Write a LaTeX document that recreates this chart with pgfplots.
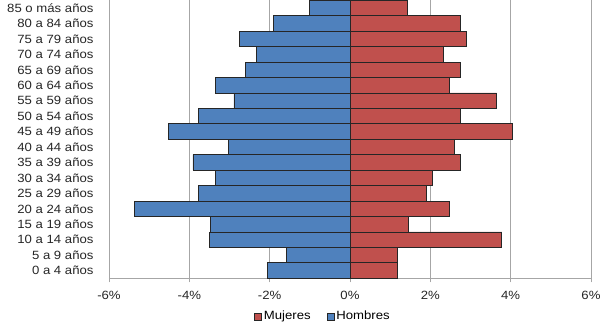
\documentclass[border=0pt]{standalone}
\usepackage{fontspec}
\setmainfont{Liberation Sans}[FakeStretch=1.1]
\usepackage{pgfplots}
\pgfplotsset{compat=1.18}
\definecolor{hblue}{HTML}{4F81BD}
\definecolor{mred}{HTML}{C0504D}
\definecolor{gridgray}{HTML}{A6A6A6}
\begin{document}
\begin{tikzpicture}
\begin{axis}[
  at={(0,0)}, anchor=south west,
  scale only axis, width=482bp, height=278bp,
  xmin=-6, xmax=6, ymin=-0.5, ymax=17.5,
  axis x line*=bottom, axis y line*=left,
  axis line style={gridgray, line width=0.8pt},
  xtick={-6,-4,-2,0,2,4,6},
  xticklabels={-6\%,-4\%,-2\%,0\%,2\%,4\%,6\%},
  xmajorgrids, grid style={gridgray, line width=0.8pt},
  xtick style={gridgray, line width=0.8pt},
  tick align=outside, major tick length=4bp,
  ytick={0,...,17},
  yticklabels={0 a 4 años,5 a 9 años,10 a 14 años,15 a 19 años,20 a 24 años,25 a 29 años,30 a 34 años,35 a 39 años,40 a 44 años,45 a 49 años,50 a 54 años,55 a 59 años,60 a 64 años,65 a 69 años,70 a 74 años,75 a 79 años,80 a 84 años,85 o más años},
  ytick style={draw=none},
  yticklabel style={font=\fontsize{12}{13}\selectfont, text=black!85, xshift=-8bp},
  xticklabel style={font=\fontsize{12}{13}\selectfont, text=black!85, yshift=-5bp},
  xbar, bar width=1, bar shift=0pt,
  legend columns=2,
  legend style={draw=none, fill=none, at={(0.444,-0.137)}, anchor=center,
    font=\fontsize{12}{13}\selectfont, /tikz/every even column/.append style={column sep=14bp}},
  legend image code/.code={\draw[#1, line width=0.6pt] (0bp,-3.5bp) rectangle (7bp,3.5bp);},
]
\addplot[fill=mred, draw=black!85, line width=0.8pt] coordinates {
(1.17,0) (1.17,1) (3.78,2) (1.45,3) (2.47,4) (1.91,5) (2.05,6) (2.75,7) (2.61,8)
(4.05,9) (2.75,10) (3.65,11) (2.47,12) (2.75,13) (2.33,14) (2.89,15) (2.75,16) (1.44,17)};
\addlegendentry{Mujeres}
\addplot[fill=hblue, draw=black!85, line width=0.8pt] coordinates {
(-2.05,0) (-1.58,1) (-3.49,2) (-3.48,3) (-5.37,4) (-3.77,5) (-3.34,6) (-3.91,7) (-3.03,8)
(-4.51,9) (-3.77,10) (-2.89,11) (-3.34,12) (-2.61,13) (-2.32,14) (-2.75,15) (-1.91,16) (-1.01,17)};
\addlegendentry{Hombres}
\end{axis}
\pgfresetboundingbox
\path[use as bounding box] (-109bp,-47.7bp) rectangle (505bp,278.3bp);
\end{tikzpicture}
\end{document}
